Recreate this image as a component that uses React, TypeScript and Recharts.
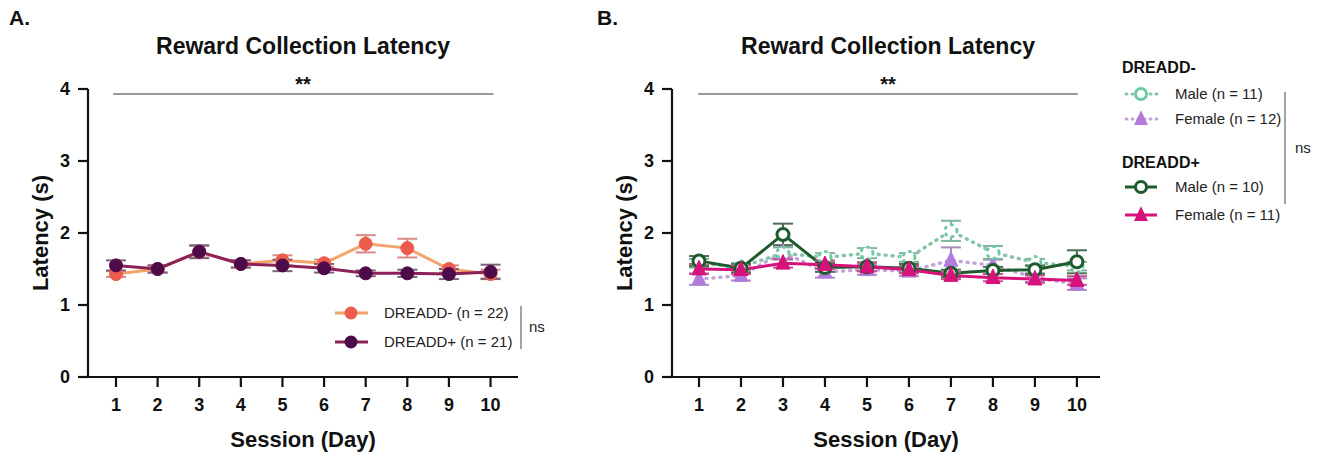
import React from 'react';
import { LineChart, Line, XAxis, YAxis, ErrorBar, ReferenceLine } from 'recharts';

const FONT = '"Liberation Sans", Arial, Helvetica, sans-serif';

const sessions = [1, 2, 3, 4, 5, 6, 7, 8, 9, 10];
const yTicks = [0, 1, 2, 3, 4];

// Panel A
const negA = [1.43, 1.5, 1.74, 1.57, 1.62, 1.58, 1.85, 1.79, 1.5, 1.43];
const negAErr = [0.04, 0.05, 0.08, 0.05, 0.07, 0.05, 0.12, 0.13, 0.05, 0.06];
const posA = [1.55, 1.5, 1.74, 1.57, 1.55, 1.51, 1.44, 1.44, 1.43, 1.46];
const posAErr = [0.07, 0.05, 0.09, 0.05, 0.08, 0.06, 0.04, 0.05, 0.07, 0.1];

// Panel B
const negMale = [1.58, 1.53, 1.72, 1.66, 1.72, 1.66, 2.03, 1.73, 1.59, 1.54];
const negMaleErr = [0.06, 0.05, 0.08, 0.06, 0.07, 0.06, 0.14, 0.09, 0.05, 0.06];
const negFemale = [1.36, 1.41, 1.73, 1.46, 1.49, 1.47, 1.62, 1.55, 1.38, 1.29];
const negFemaleErr = [0.08, 0.07, 0.1, 0.08, 0.07, 0.07, 0.18, 0.08, 0.06, 0.08];
const posMale = [1.61, 1.51, 1.98, 1.52, 1.53, 1.51, 1.44, 1.48, 1.49, 1.6];
const posMaleErr = [0.07, 0.06, 0.15, 0.06, 0.06, 0.06, 0.05, 0.05, 0.06, 0.16];
const posFemale = [1.5, 1.49, 1.58, 1.56, 1.53, 1.49, 1.41, 1.38, 1.36, 1.34];
const posFemaleErr = [0.07, 0.06, 0.06, 0.06, 0.06, 0.05, 0.05, 0.05, 0.05, 0.06];

const dataA = sessions.map((s, i) => ({
  session: s,
  neg: negA[i],
  negErr: negAErr[i],
  pos: posA[i],
  posErr: posAErr[i],
}));

const dataB = sessions.map((s, i) => ({
  session: s,
  negM: negMale[i],
  negMErr: negMaleErr[i],
  negF: negFemale[i],
  negFErr: negFemaleErr[i],
  posM: posMale[i],
  posMErr: posMaleErr[i],
  posF: posFemale[i],
  posFErr: posFemaleErr[i],
}));

const C = {
  negLine: '#F3A36C',
  negDot: '#EC5B4C',
  negErr: '#D98A84',
  posLine: '#8C2259',
  posDot: '#4D0B4A',
  posErr: '#7C6478',
  negMale: '#6DCBA2',
  negMaleLine: '#88C4A8',
  negFemale: '#B27BDC',
  negFemaleLine: '#C5A3D8',
  posMale: '#1D5A2C',
  posFemale: '#D6127B',
};

const triPath = (cx: number, cy: number, s: number) =>
  `M${cx},${cy - s * 0.62} L${cx + s / 2},${cy + s * 0.42} L${cx - s / 2},${cy + s * 0.42} Z`;

const triDot = (color: string) => (props: any) => {
  const { cx, cy, index } = props;
  if (cx == null || cy == null) return <g key={`e${index}`} />;
  return <path key={`t${index}`} d={triPath(cx, cy, 14)} fill={color} stroke={color} strokeWidth={1} />;
};

const tickStyle = { fontSize: 18, fontWeight: 700, fill: '#111', fontFamily: FONT };
const axisStroke = { stroke: '#111', strokeWidth: 2.2 };

const xAxisProps = (domain: [number, number]) => ({
  type: 'number' as const,
  dataKey: 'session',
  domain,
  ticks: sessions,
  allowDataOverflow: true,
  interval: 0 as const,
  tickSize: 10,
  tickMargin: 11,
  axisLine: axisStroke,
  tickLine: axisStroke,
  tick: tickStyle,
  height: 40,
  label: {
    value: 'Session (Day)',
    position: 'bottom' as const,
    offset: 14,
    style: { fontSize: 22, fontWeight: 700, fill: '#111', fontFamily: FONT },
  },
});

const yAxisProps = {
  type: 'number' as const,
  domain: [0, 4],
  ticks: yTicks,
  interval: 0 as const,
  width: 60,
  tickSize: 10,
  tickMargin: 8,
  axisLine: axisStroke,
  tickLine: axisStroke,
  tick: tickStyle,
  label: {
    value: 'Latency (s)',
    angle: -90,
    position: 'insideLeft' as const,
    offset: 12,
    style: { textAnchor: 'middle', fontSize: 22, fontWeight: 700, fill: '#111', fontFamily: FONT },
  },
};

export default function App() {
  const textStyle: React.CSSProperties = { fontFamily: FONT };
  return (
    <div style={{ position: 'absolute', left: 0, top: 0, width: 1322, height: 455, background: '#fff' }}>
      <div style={{ position: 'absolute', left: 0, top: 0 }}>
        <LineChart width={600} height={455} data={dataA} margin={{ top: 89, right: 82, bottom: 38, left: 28 }}>
          <XAxis {...xAxisProps([0.327, 10.66])} />
          <YAxis {...yAxisProps} />
          <ReferenceLine
            segment={[{ x: 0.93, y: 3.93 }, { x: 10.07, y: 3.93 }]}
            stroke="#777"
            strokeWidth={1.5}
          />
          <Line
            dataKey="neg"
            stroke={C.negLine}
            strokeWidth={3}
            dot={{ r: 6.5, fill: C.negDot, stroke: C.negDot, strokeWidth: 1 }}
            isAnimationActive={false}
          >
            <ErrorBar dataKey="negErr" width={10} strokeWidth={2} stroke={C.negErr} direction="y" />
          </Line>
          <Line
            dataKey="pos"
            stroke={C.posLine}
            strokeWidth={3}
            dot={{ r: 6.5, fill: C.posDot, stroke: C.posDot, strokeWidth: 1 }}
            isAnimationActive={false}
          >
            <ErrorBar dataKey="posErr" width={10} strokeWidth={2} stroke={C.posErr} direction="y" />
          </Line>
        </LineChart>
      </div>
      <div style={{ position: 'absolute', left: 584, top: 0 }}>
        <LineChart width={526} height={455} data={dataB} margin={{ top: 89, right: 10, bottom: 38, left: 28 }}>
          <XAxis {...xAxisProps([0.357, 10.55])} />
          <YAxis {...yAxisProps} />
          <ReferenceLine
            segment={[{ x: 0.98, y: 3.93 }, { x: 10.02, y: 3.93 }]}
            stroke="#777"
            strokeWidth={1.5}
          />
          <Line
            dataKey="negF"
            stroke={C.negFemaleLine}
            strokeWidth={3.5}
            strokeDasharray="1 6"
            strokeLinecap="round"
            dot={triDot(C.negFemale)}
            isAnimationActive={false}
          >
            <ErrorBar dataKey="negFErr" width={10} strokeWidth={2} stroke="#A98BBE" direction="y" />
          </Line>
          <Line
            dataKey="negM"
            stroke={C.negMaleLine}
            strokeWidth={3.5}
            strokeDasharray="1 6"
            strokeLinecap="round"
            dot={{ r: 6, fill: '#fff', stroke: C.negMale, strokeWidth: 3 }}
            isAnimationActive={false}
          >
            <ErrorBar dataKey="negMErr" width={10} strokeWidth={2} stroke="#7FB39B" direction="y" />
          </Line>
          <Line
            dataKey="posM"
            stroke={C.posMale}
            strokeWidth={3}
            dot={{ r: 6, fill: '#fff', stroke: C.posMale, strokeWidth: 3 }}
            isAnimationActive={false}
          >
            <ErrorBar dataKey="posMErr" width={10} strokeWidth={2} stroke="#4D6E55" direction="y" />
          </Line>
          <Line
            dataKey="posF"
            stroke={C.posFemale}
            strokeWidth={3}
            dot={triDot(C.posFemale)}
            isAnimationActive={false}
          >
            <ErrorBar dataKey="posFErr" width={10} strokeWidth={2} stroke="#C5558F" direction="y" />
          </Line>
        </LineChart>
      </div>
      <svg
        width={1322}
        height={455}
        style={{ position: 'absolute', left: 0, top: 0, pointerEvents: 'none', ...textStyle }}
      >
        <text x={9} y={25} fontSize={21} fontWeight={700} fill="#111">A.</text>
        <text x={597} y={25} fontSize={21} fontWeight={700} fill="#111">B.</text>
        <text x={303} y={46} dy="0.35em" textAnchor="middle" fontSize={23} fontWeight={700} fill="#111">
          Reward Collection Latency
        </text>
        <text x={888} y={46} dy="0.35em" textAnchor="middle" fontSize={23} fontWeight={700} fill="#111">
          Reward Collection Latency
        </text>
        <text x={303} y={84} dy="0.35em" textAnchor="middle" fontSize={20} fontWeight={700} fill="#111">**</text>
        <text x={888} y={84} dy="0.35em" textAnchor="middle" fontSize={20} fontWeight={700} fill="#111">**</text>

        {/* Legend A */}
        <line x1={335} y1={313} x2={368} y2={313} stroke={C.negLine} strokeWidth={3} />
        <circle cx={351} cy={313} r={6.5} fill={C.negDot} />
        <text x={384} y={313} dy="0.35em" fontSize={15} fill="#222">DREADD- (n = 22)</text>
        <line x1={335} y1={342} x2={368} y2={342} stroke={C.posLine} strokeWidth={3} />
        <circle cx={351} cy={342} r={6.5} fill={C.posDot} />
        <text x={384} y={342} dy="0.35em" fontSize={15} fill="#222">DREADD+ (n = 21)</text>
        <line x1={521} y1={306} x2={521} y2={349} stroke="#666" strokeWidth={1.2} />
        <text x={529} y={327} dy="0.35em" fontSize={15} fill="#222">ns</text>

        {/* Legend B */}
        <text x={1122} y={67} dy="0.35em" fontSize={16} fontWeight={700} fill="#111">DREADD-</text>
        <line x1={1126} y1={94} x2={1157} y2={94} stroke={C.negMaleLine} strokeWidth={3} strokeDasharray="1 5" strokeLinecap="round" />
        <circle cx={1141} cy={94} r={5.5} fill="#fff" stroke={C.negMale} strokeWidth={3} />
        <text x={1175} y={94} dy="0.35em" fontSize={15} fill="#222">Male (n = 11)</text>
        <line x1={1126} y1={119} x2={1157} y2={119} stroke={C.negFemaleLine} strokeWidth={3} strokeDasharray="1 5" strokeLinecap="round" />
        <path d={triPath(1141, 119, 14)} fill={C.negFemale} />
        <text x={1175} y={119} dy="0.35em" fontSize={15} fill="#222">Female (n = 12)</text>
        <text x={1122} y={162} dy="0.35em" fontSize={16} fontWeight={700} fill="#111">DREADD+</text>
        <line x1={1125} y1={187} x2={1157} y2={187} stroke={C.posMale} strokeWidth={3} />
        <circle cx={1141} cy={187} r={5.5} fill="#fff" stroke={C.posMale} strokeWidth={3} />
        <text x={1175} y={187} dy="0.35em" fontSize={15} fill="#222">Male (n = 10)</text>
        <line x1={1125} y1={215} x2={1157} y2={215} stroke={C.posFemale} strokeWidth={3} />
        <path d={triPath(1141, 215, 14)} fill={C.posFemale} />
        <text x={1175} y={215} dy="0.35em" fontSize={15} fill="#222">Female (n = 11)</text>
        <line x1={1285} y1={92} x2={1285} y2={204} stroke="#666" strokeWidth={1.2} />
        <text x={1295} y={148} dy="0.35em" fontSize={15} fill="#222">ns</text>
      </svg>
    </div>
  );
}
